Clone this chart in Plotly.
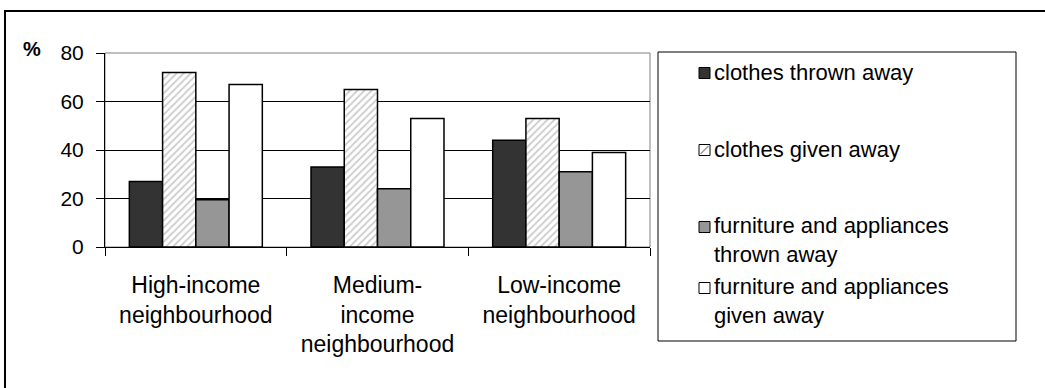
import plotly.graph_objects as go

# ---- data ----
categories = ["High-income<br>neighbourhood", "Medium-<br>income<br>neighbourhood", "Low-income<br>neighbourhood"]
series_names = ["clothes thrown away", "clothes given away",
                "furniture and appliances<br>thrown away", "furniture and appliances<br>given away"]
clothes_thrown = [27, 33, 44]
clothes_given = [72, 65, 53]
furniture_thrown = [19.5, 24, 31]
furniture_given = [67, 53, 39]
y_ticks = [0, 20, 40, 60, 80]

W, H = 1045, 388
L, R, T, B = 105, 650, 53, 247
FONT = "Liberation Sans, Arial, sans-serif"


def px(x):
    return (x - L) / (R - L)


def py(y):
    return (B - y) / (B - T)


fig = go.Figure()
values = [clothes_thrown, clothes_given, furniture_thrown, furniture_given]
colors = ["#333333", "#ffffff", "#969696", "#ffffff"]
for i, (name, vals) in enumerate(zip(series_names, values)):
    marker = dict(color=colors[i], line=dict(color="#000000", width=1.5))
    if i == 1:
        marker["pattern"] = dict(shape="/", fgcolor="#9a9a9a", bgcolor="#ffffff",
                                 size=5, solidity=0.35)
    fig.add_trace(go.Bar(x=categories, y=vals, name=name.replace("<br>", " "),
                         marker=marker, showlegend=False))

shapes = []
# outer frame (cropped on right/bottom)
shapes.append(dict(type="rect", xref="paper", yref="paper", x0=px(5), x1=px(1070),
                   y0=py(420), y1=py(11), line=dict(color="#000", width=2)))
# plot area border
shapes.append(dict(type="rect", xref="paper", yref="paper", x0=0, x1=1, y0=0, y1=1,
                   line=dict(color="#808080", width=1), layer="below"))
# legend box
shapes.append(dict(type="rect", xref="paper", yref="paper", x0=px(658), x1=px(1016),
                   y0=py(341), y1=py(52), line=dict(color="#000", width=1)))

annotations = []
leg_y = [72, 149, 240, 301]
sw_y = [73, 150, 227, 288]
sw_fill = ["#333333", "#ffffff", "#969696", "#ffffff"]
for i, name in enumerate(series_names):
    cy = sw_y[i]
    shapes.append(dict(type="rect", xref="paper", yref="paper", x0=px(699), x1=px(710),
                       y0=py(cy + 5.5), y1=py(cy - 5.5), fillcolor=sw_fill[i],
                       line=dict(color="#000", width=1)))
    if i == 1:
        shapes.append(dict(type="line", xref="paper", yref="paper", x0=px(700.5), x1=px(708.5),
                           y0=py(cy + 4), y1=py(cy - 4), line=dict(color="#9a9a9a", width=1.5)))
    annotations.append(dict(xref="paper", yref="paper", x=px(712), y=py(leg_y[i]),
                            xanchor="left", yanchor="middle", align="left", showarrow=False,
                            text=name, font=dict(family=FONT, size=22, color="#000")))

annotations.append(dict(xref="paper", yref="paper", x=px(32), y=py(49), showarrow=False,
                        xanchor="center", yanchor="middle", text="<b>%</b>",
                        font=dict(family=FONT, size=20, color="#000")))

fig.update_layout(
    width=W, height=H,
    margin=dict(l=L, r=W - R, t=T, b=H - B, pad=0),
    paper_bgcolor="#ffffff", plot_bgcolor="#ffffff",
    barmode="group", bargap=0.268, bargroupgap=0,
    shapes=shapes, annotations=annotations,
    font=dict(family=FONT, size=21, color="#000"),
)
fig.update_yaxes(range=[0, 80], tickvals=y_ticks, showgrid=True, gridcolor="#000000", gridwidth=1,
                 zeroline=False, showline=True, linecolor="#000000", linewidth=1,
                 ticks="outside", ticklen=8, tickcolor="#000000", tickwidth=1,
                 ticklabelstandoff=8,
                 tickfont=dict(family=FONT, size=21, color="#000"))
fig.update_xaxes(showline=True, linecolor="#000000", linewidth=1, ticks="outside",
                 tickson="boundaries", ticklen=8, tickcolor="#000000", tickwidth=1,
                 ticklabelstandoff=17,
                 tickfont=dict(family=FONT, size=23, color="#000"))

fig.write_html("out.html")
